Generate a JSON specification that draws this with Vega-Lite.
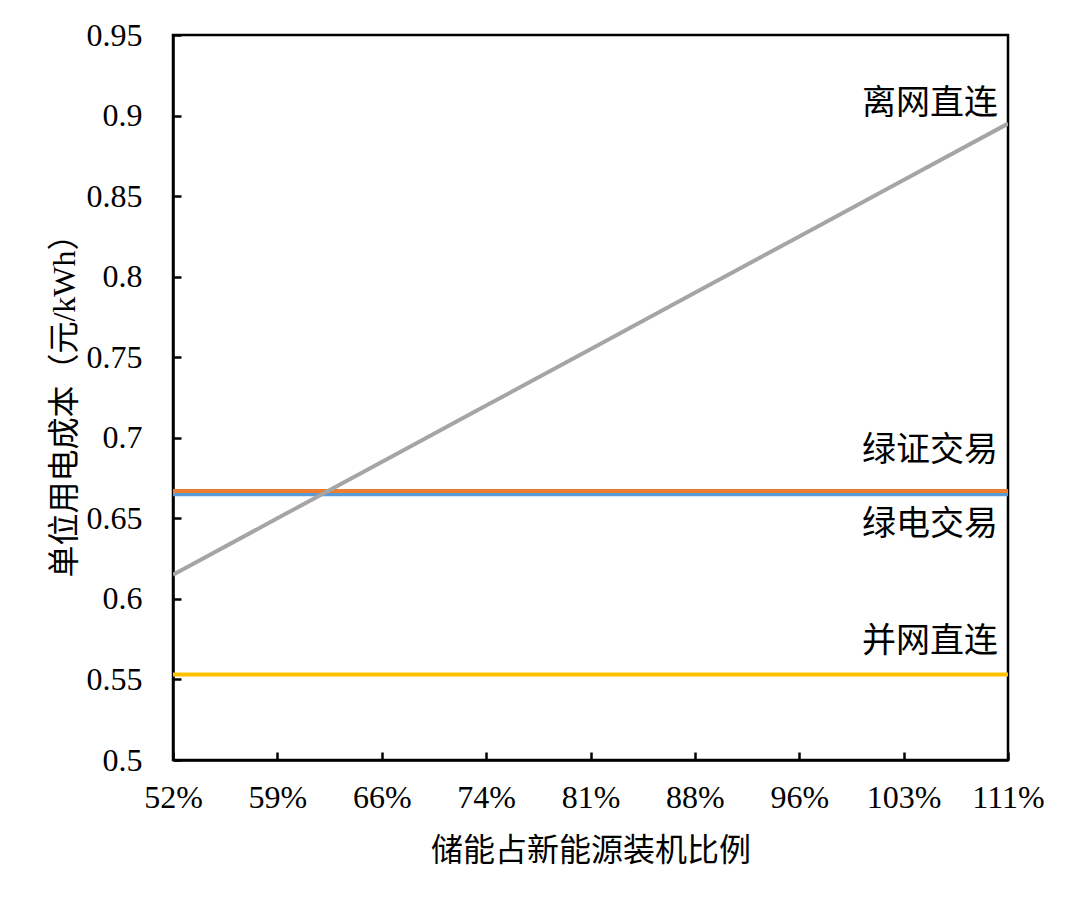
{
  "$schema": "https://vega.github.io/schema/vega-lite/v6.json",
  "width": 835,
  "height": 725,
  "autosize": {"type": "none"},
  "padding": {"left": 173, "top": 35, "right": 72, "bottom": 145},
  "background": "white",
  "config": {
    "view": {"stroke": "black", "strokeWidth": 2.5},
    "font": "Liberation Serif",
    "axis": {
      "grid": false,
      "domainColor": "black",
      "domainWidth": 2.5,
      "tickColor": "black",
      "tickWidth": 2.5,
      "tickSize": -8,
      "labelFont": "Liberation Serif",
      "labelFontSize": 32,
      "labelColor": "black",
      "titleFont": "Liberation Serif, Noto Sans CJK SC",
      "titleFontSize": 32,
      "titleFontWeight": "normal",
      "titleColor": "black"
    }
  },
  "datasets": {
    "lines": [
      {"x": "52%", "series": "绿电交易", "cost": 0.665},
      {"x": "59%", "series": "绿电交易", "cost": 0.665},
      {"x": "66%", "series": "绿电交易", "cost": 0.665},
      {"x": "74%", "series": "绿电交易", "cost": 0.665},
      {"x": "81%", "series": "绿电交易", "cost": 0.665},
      {"x": "88%", "series": "绿电交易", "cost": 0.665},
      {"x": "96%", "series": "绿电交易", "cost": 0.665},
      {"x": "103%", "series": "绿电交易", "cost": 0.665},
      {"x": "111%", "series": "绿电交易", "cost": 0.665},
      {"x": "52%", "series": "绿证交易", "cost": 0.667},
      {"x": "59%", "series": "绿证交易", "cost": 0.667},
      {"x": "66%", "series": "绿证交易", "cost": 0.667},
      {"x": "74%", "series": "绿证交易", "cost": 0.667},
      {"x": "81%", "series": "绿证交易", "cost": 0.667},
      {"x": "88%", "series": "绿证交易", "cost": 0.667},
      {"x": "96%", "series": "绿证交易", "cost": 0.667},
      {"x": "103%", "series": "绿证交易", "cost": 0.667},
      {"x": "111%", "series": "绿证交易", "cost": 0.667},
      {"x": "52%", "series": "并网直连", "cost": 0.553},
      {"x": "59%", "series": "并网直连", "cost": 0.553},
      {"x": "66%", "series": "并网直连", "cost": 0.553},
      {"x": "74%", "series": "并网直连", "cost": 0.553},
      {"x": "81%", "series": "并网直连", "cost": 0.553},
      {"x": "88%", "series": "并网直连", "cost": 0.553},
      {"x": "96%", "series": "并网直连", "cost": 0.553},
      {"x": "103%", "series": "并网直连", "cost": 0.553},
      {"x": "111%", "series": "并网直连", "cost": 0.553},
      {"x": "52%", "series": "离网直连", "cost": 0.615},
      {"x": "59%", "series": "离网直连", "cost": 0.65},
      {"x": "66%", "series": "离网直连", "cost": 0.685},
      {"x": "74%", "series": "离网直连", "cost": 0.72},
      {"x": "81%", "series": "离网直连", "cost": 0.755},
      {"x": "88%", "series": "离网直连", "cost": 0.79},
      {"x": "96%", "series": "离网直连", "cost": 0.825},
      {"x": "103%", "series": "离网直连", "cost": 0.86},
      {"x": "111%", "series": "离网直连", "cost": 0.895}
    ],
    "labels": [
      {"x": "111%", "series": "离网直连", "label_y": 0.907},
      {"x": "111%", "series": "绿证交易", "label_y": 0.6915},
      {"x": "111%", "series": "绿电交易", "label_y": 0.646},
      {"x": "111%", "series": "并网直连", "label_y": 0.5735}
    ]
  },
  "layer": [
    {
      "data": {"name": "lines"},
      "mark": {"type": "line", "strokeWidth": 4, "clip": true},
      "encoding": {
        "x": {
          "field": "x",
          "type": "ordinal",
          "sort": ["52%", "59%", "66%", "74%", "81%", "88%", "96%", "103%", "111%"],
          "scale": {"type": "point", "padding": 0},
          "axis": {"title": "储能占新能源装机比例", "labelAngle": 0, "labelPadding": 30, "titlePadding": 22}
        },
        "y": {
          "field": "cost",
          "type": "quantitative",
          "scale": {"domain": [0.5, 0.95], "zero": false, "nice": false},
          "axis": {
            "title": "单位用电成本（元/kWh）",
            "values": [0.5, 0.55, 0.6, 0.65, 0.7, 0.75, 0.8, 0.85, 0.9, 0.95],
            "format": "~g",
            "labelPadding": 39,
            "titlePadding": 5
          }
        },
        "color": {
          "field": "series",
          "type": "nominal",
          "scale": {
            "domain": ["绿电交易", "绿证交易", "并网直连", "离网直连"],
            "range": ["#5B9BD5", "#ED7D31", "#FFC000", "#A5A5A5"]
          },
          "legend": null
        }
      }
    },
    {
      "data": {"name": "labels"},
      "mark": {
        "type": "text",
        "font": "Noto Sans CJK SC",
        "fontSize": 34,
        "align": "right",
        "baseline": "middle",
        "dx": -10,
        "color": "black"
      },
      "encoding": {
        "x": {"field": "x", "type": "ordinal", "sort": ["52%", "59%", "66%", "74%", "81%", "88%", "96%", "103%", "111%"]},
        "y": {"field": "label_y", "type": "quantitative"},
        "text": {"field": "series", "type": "nominal"}
      }
    }
  ]
}
